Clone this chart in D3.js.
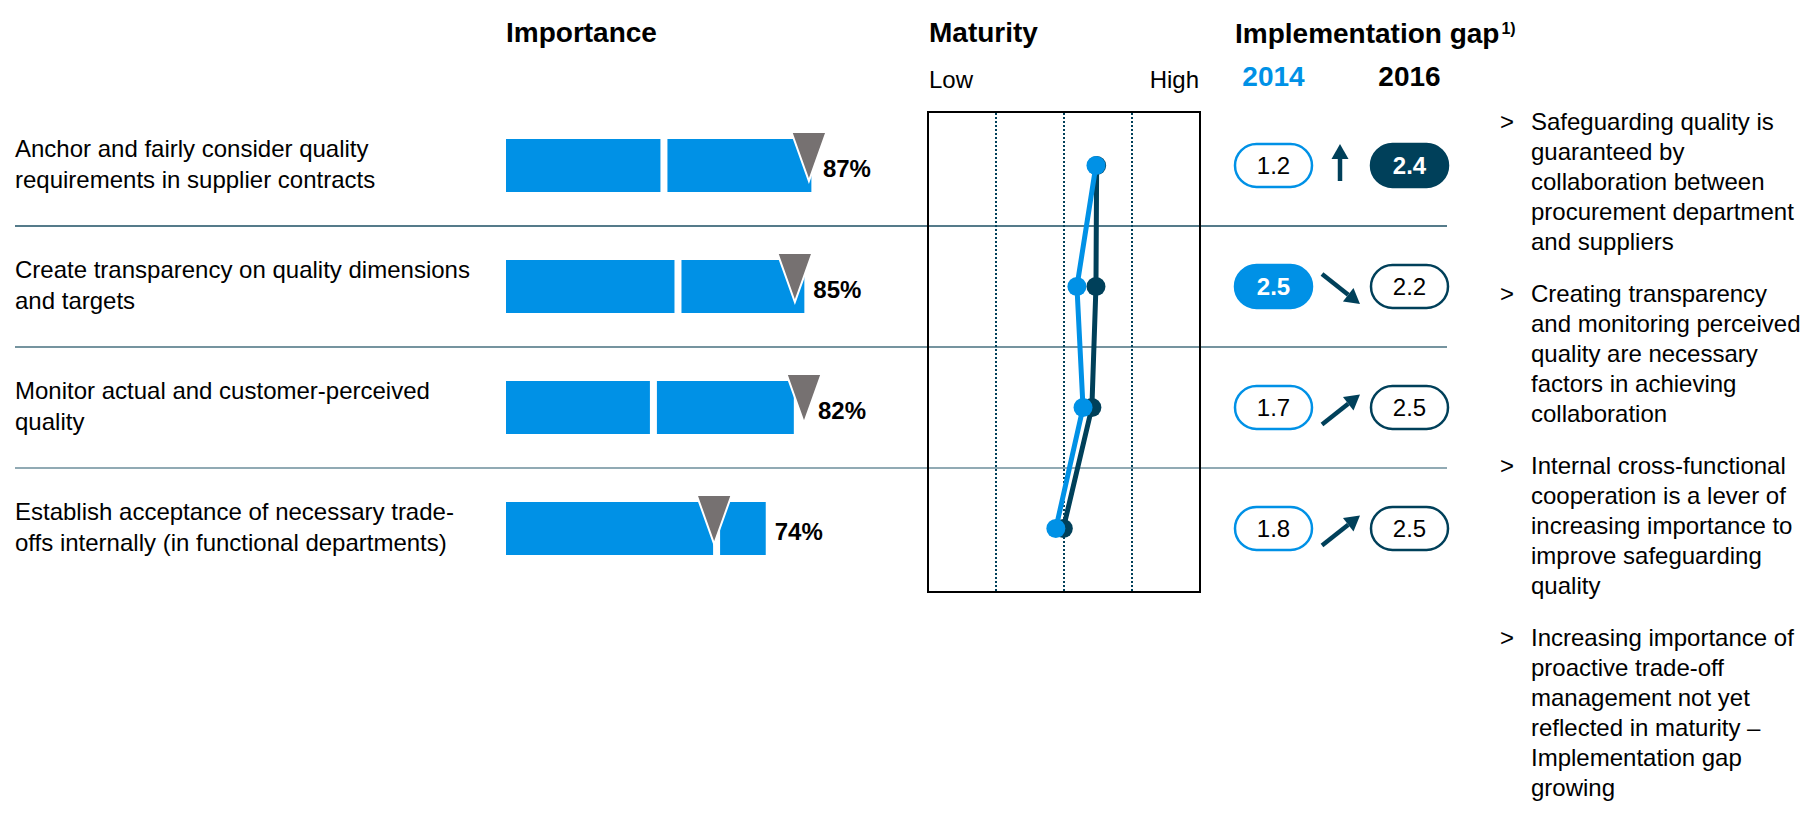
<!DOCTYPE html>
<html><head><meta charset="utf-8">
<script src="https://cdn.jsdelivr.net/npm/d3@7"></script>
<style>
body{margin:0;background:#fff}
svg{display:block}
text{font-family:"Liberation Sans",Arial,sans-serif}
</style>
</head><body>
<svg id="c" width="1803" height="814"></svg>
<script>
// ---------- data ----------
const categories = [
  ["Anchor and fairly consider quality", "requirements in supplier contracts"],
  ["Create transparency on quality dimensions", "and targets"],
  ["Monitor actual and customer-perceived", "quality"],
  ["Establish acceptance of necessary trade-", "offs internally (in functional departments)"]
];
const importanceVeryHigh = [44, 48, 41, 59];   // first bar segment (%)
const importanceTotal    = [87, 85, 82, 74];   // full bar (%)
const importanceMarker   = [86.3, 82.3, 84.9, 59.3]; // grey triangle (%)
const maturity2014 = [2.47, 2.19, 2.28, 1.88];
const maturity2016 = [2.48, 2.47, 2.41, 1.99];
const maturityTicks = [1, 2, 3];
const gap2014 = [1.2, 2.5, 1.7, 1.8];
const gap2016 = [2.4, 2.2, 2.5, 2.5];
const highlight2014 = [false, true, false, false];
const highlight2016 = [true, false, false, false];
const gapTrend = ["up", "down", "rise", "rise"];
const years = ["2014", "2016"];
const bullets = [
  ["Safeguarding quality is", "guaranteed by", "collaboration between", "procurement department", "and suppliers"],
  ["Creating transparency", "and monitoring perceived", "quality are necessary", "factors in achieving", "collaboration"],
  ["Internal cross-functional", "cooperation is a lever of", "increasing importance to", "improve safeguarding", "quality"],
  ["Increasing importance of", "proactive trade-off", "management not yet", "reflected in maturity \u2013", "Implementation gap", "growing"]
];

// ---------- styles ----------
const BLUE = "#0091E6", NAVY = "#00405A", GREY = "#767171";
const svg = d3.select("#c");

const y = d3.scaleBand().domain(d3.range(categories.length)).range([105, 589]);
const cy = i => y(i) + y.bandwidth() / 2;
const xImp = d3.scaleLinear().domain([0, 100]).range([506, 857]);
const xMat = d3.scaleLinear().domain([0, 4]).range([928, 1200]);

// headers
svg.append("text").attr("x", 506).attr("y", 42).attr("font-size", 28).attr("font-weight", "bold").text("Importance");
svg.append("text").attr("x", 929).attr("y", 42).attr("font-size", 28).attr("font-weight", "bold").text("Maturity");
const ig = svg.append("text").attr("x", 1235).attr("y", 43).attr("font-size", 28).attr("font-weight", "bold");
ig.append("tspan").text("Implementation gap");
ig.append("tspan").attr("font-size", 16).attr("dy", -9).attr("dx", 2).text("1)");
svg.append("text").attr("x", 929).attr("y", 88).attr("font-size", 24).text("Low");
svg.append("text").attr("x", 1199).attr("y", 88).attr("font-size", 24).attr("text-anchor", "end").text("High");
svg.selectAll("text.yr").data(years).join("text").attr("class", "yr")
  .attr("x", (d, i) => i === 0 ? 1273.5 : 1409.5).attr("y", 86)
  .attr("text-anchor", "middle").attr("font-size", 28).attr("font-weight", "bold")
  .attr("fill", (d, i) => i === 0 ? BLUE : "#000").text(d => d);

// separators
const sepColors = ["#1c4f63", "#47707f", "#6d8e9b"];
svg.selectAll("line.sep").data(d3.range(1, categories.length)).join("line").attr("class", "sep")
  .attr("x1", 15).attr("x2", 1447).attr("y1", d => y(d)).attr("y2", d => y(d))
  .attr("stroke", (d, i) => sepColors[i]).attr("stroke-width", 1.6);

// row labels
categories.forEach((lines, i) => {
  const t = svg.append("text").attr("font-size", 24).attr("fill", "#000");
  lines.forEach((l, k) => t.append("tspan").attr("x", 15).attr("y", cy(i) - 9 + k * 31).text(l));
});

// importance bars
const bh = 53;
categories.forEach((c, i) => {
  const top = cy(i) - bh / 2;
  const split = xImp(importanceVeryHigh[i]);
  svg.append("rect").attr("x", xImp(0)).attr("y", top).attr("width", split - xImp(0)).attr("height", bh).attr("fill", BLUE);
  svg.append("rect").attr("x", split + 7).attr("y", top).attr("width", xImp(importanceTotal[i]) - split - 7).attr("height", bh).attr("fill", BLUE);
  const ax = xImp(importanceMarker[i]);
  const tt = top - 7;
  svg.append("path").attr("d", `M${ax - 17.5},${tt}L${ax + 17.5},${tt}L${ax},${tt + 49}Z`)
    .attr("fill", GREY).attr("stroke", "#fff").attr("stroke-width", 2).attr("stroke-linejoin", "miter");
  const lx = Math.max(xImp(importanceTotal[i]), ax + 5) + 9;
  svg.append("text").attr("x", lx).attr("y", cy(i) + 11).attr("font-size", 24).attr("font-weight", "bold")
    .text(importanceTotal[i] + "%");
});

// maturity box
svg.append("rect").attr("x", 928).attr("y", 112).attr("width", 272).attr("height", 480)
  .attr("fill", "none").attr("stroke", "#000").attr("stroke-width", 2);
svg.selectAll("line.grid").data(maturityTicks).join("line").attr("class", "grid")
  .attr("x1", d => xMat(d)).attr("x2", d => xMat(d)).attr("y1", 113).attr("y2", 591)
  .attr("stroke", NAVY).attr("stroke-width", 2).attr("stroke-dasharray", "2,2");

const line = d3.line().x(d => xMat(d[0])).y(d => cy(d[1]));
svg.append("path").attr("d", line(maturity2016.map((v, i) => [v, i])))
  .attr("fill", "none").attr("stroke", NAVY).attr("stroke-width", 5);
svg.selectAll("circle.m16").data(maturity2016).join("circle").attr("class", "m16")
  .attr("cx", d => xMat(d)).attr("cy", (d, i) => cy(i)).attr("r", 9.5).attr("fill", NAVY);
svg.append("path").attr("d", line(maturity2014.map((v, i) => [v, i])))
  .attr("fill", "none").attr("stroke", BLUE).attr("stroke-width", 5);
svg.selectAll("circle.m14").data(maturity2014).join("circle").attr("class", "m14")
  .attr("cx", d => xMat(d)).attr("cy", (d, i) => cy(i)).attr("r", 9.5).attr("fill", BLUE);

// implementation gap pills
const pw = 77, ph = 43;
function pill(cx, cyy, val, filled, color) {
  svg.append("rect").attr("x", cx - pw / 2).attr("y", cyy - ph / 2).attr("width", pw).attr("height", ph)
    .attr("rx", ph / 2).attr("ry", ph / 2)
    .attr("fill", filled ? color : "#fff").attr("stroke", color).attr("stroke-width", 2.5);
  svg.append("text").attr("x", cx).attr("y", cyy + 8.5).attr("text-anchor", "middle").attr("font-size", 24)
    .attr("font-weight", filled ? "bold" : "normal").attr("fill", filled ? "#fff" : "#000")
    .text(val.toFixed(1));
}
categories.forEach((c, i) => {
  pill(1273.5, cy(i), gap2014[i], highlight2014[i], BLUE);
  pill(1409.5, cy(i), gap2016[i], highlight2016[i], NAVY);
});

// trend arrows
const arrowGeom = {
  up:   {x1: 1340, y1: 15.5, x2: 1340, y2: -21.5},
  down: {x1: 1322, y1: -12.5, x2: 1360, y2: 17.5},
  rise: {x1: 1322, y1: 17, x2: 1360, y2: -13}
};
gapTrend.forEach((t, i) => {
  const g = arrowGeom[t];
  const x1 = g.x1, y1 = cy(i) + g.y1, x2 = g.x2, y2 = cy(i) + g.y2;
  const ang = Math.atan2(y2 - y1, x2 - x1);
  const hl = 15, hw = 8.5;
  const bx = x2 - hl * Math.cos(ang), by = y2 - hl * Math.sin(ang);
  svg.append("line").attr("x1", x1).attr("y1", y1).attr("x2", bx).attr("y2", by)
    .attr("stroke", NAVY).attr("stroke-width", 4.5);
  const px = -Math.sin(ang) * hw, py = Math.cos(ang) * hw;
  svg.append("path").attr("d", `M${x2},${y2}L${bx + px},${by + py}L${bx - px},${by - py}Z`).attr("fill", NAVY);
});

// bullets
let by0 = 130;
bullets.forEach(lines => {
  svg.append("text").attr("x", 1500).attr("y", by0).attr("font-size", 24).text(">");
  const t = svg.append("text").attr("font-size", 24);
  lines.forEach((l, k) => t.append("tspan").attr("x", 1531).attr("y", by0 + k * 30).text(l));
  by0 += lines.length * 30 + 22;
});
</script>
</body></html>
